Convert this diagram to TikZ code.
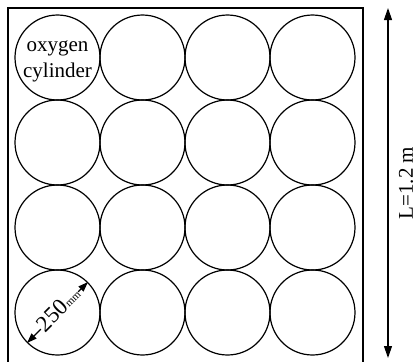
\documentclass[tikz,border=0pt]{standalone}
\usepackage{fontspec}
\setmainfont{Liberation Serif}
\usetikzlibrary{arrows.meta}
\begin{document}
\begin{tikzpicture}[x=1bp,y=-1bp,line width=1.2bp,
  cyl/.style={circle,draw,minimum size=85bp,inner sep=0pt},
  lbl/.style={font=\fontsize{21bp}{26bp}\selectfont},
  bigarrow/.style={{Triangle[length=12bp,width=8bp]}-{Triangle[length=12bp,width=8bp]}},
  diaarrow/.style={{Triangle[length=10bp,width=7bp]}-{Triangle[length=10bp,width=7bp]}}]
\useasboundingbox (0,0) rectangle (419,362);
\draw (8,370) -- (8,8) -- (363,8) -- (363,370);
\foreach \i in {0,...,3}
  \foreach \j in {0,...,3}
    \node[cyl] (c\i\j) at (57.5+85*\i,57.5+85*\j) {};
\node[lbl,align=center,inner sep=0pt] (txt) at ([yshift=-4bp]c00.center) {oxygen\\cylinder};
\draw[diaarrow] (c03.225) -- (c03.45);
\node[rotate=45,fill=white,inner sep=0.5bp,font=\fontsize{23bp}{23bp}\selectfont] (dia) at ([xshift=1bp,yshift=3bp]c03.center) {250\raisebox{1bp}{\fontsize{11bp}{11bp}\selectfont mm}};
\coordinate (top) at (388,8);
\coordinate (bot) at (388,358);
\draw[bigarrow] (top) -- (bot);
\node[lbl,rotate=90] (len) at (406,183) {L=1.2 m};
\end{tikzpicture}
\end{document}
